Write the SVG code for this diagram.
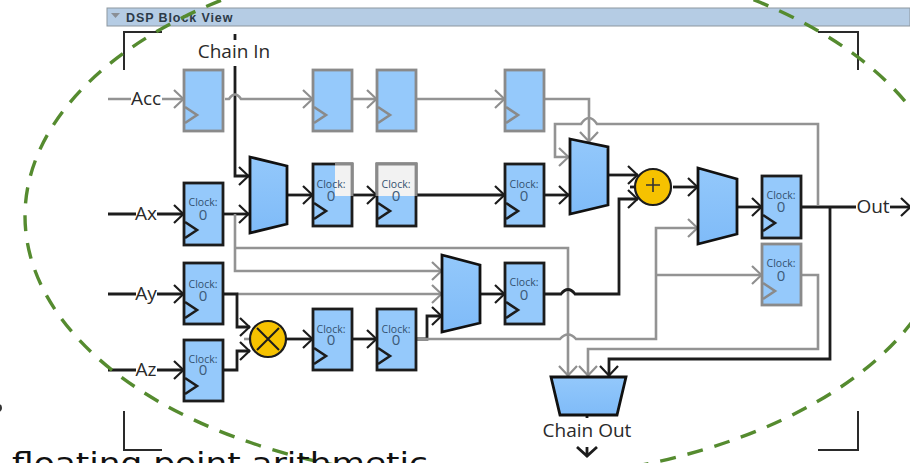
<svg xmlns="http://www.w3.org/2000/svg" width="910" height="463" viewBox="0 0 910 463">
<defs>
<marker id="ab" viewBox="0 0 14 20" refX="13" refY="10" markerWidth="14" markerHeight="20" markerUnits="userSpaceOnUse" orient="auto"><path d="M3 1L12.500 10L3 19" fill="none" stroke="#1c1c1c" stroke-width="2.2"/></marker>
<marker id="ag" viewBox="0 0 14 20" refX="13" refY="10" markerWidth="14" markerHeight="20" markerUnits="userSpaceOnUse" orient="auto"><path d="M3 1L12.500 10L3 19" fill="none" stroke="#8f8f8f" stroke-width="2.2"/></marker>
<linearGradient id="mux" x1="0" y1="0" x2="0" y2="1"><stop offset="0" stop-color="#93c8fb"/><stop offset="1" stop-color="#7fbbf8"/></linearGradient>
</defs>
<style>
text{font-family:"Open Sans","Liberation Sans",sans-serif}
.sb{fill:none;stroke:#1c1c1c;stroke-width:2.8}
.sg{fill:none;stroke:#939393;stroke-width:2.6}
.rb{fill:#95c9fb;stroke:#1c1c1c;stroke-width:2.8}
.rg{fill:#95c9fb;stroke:#8a8a8a;stroke-width:2.8}
.m{fill:url(#mux);stroke:#111;stroke-width:2.8}
.c{font-size:10.500px;fill:#33516f;text-anchor:middle}
.z{font-size:15px;fill:#3d5b78;text-anchor:middle}
.l{font-size:19px;fill:#2a2a2a;text-anchor:middle}
.ck{fill:none;stroke-width:2.6}
.op{fill:#f6c200;stroke:#1c1c1c;stroke-width:2.200}
.crop{fill:none;stroke:#2a2a2a;stroke-width:2}
</style>
<circle cx="-2" cy="408" r="4" fill="#333"/>
<g id="title-bar">
<rect x="107" y="8" width="803" height="18" fill="#b5cce4" stroke="#8d979f" stroke-width="1"/>
<path d="M111 13h9l-4.500 5z" fill="#8a8f96"/>
<text x="126" y="22" font-size="12.500" font-weight="700" fill="#2c3a48" style="font-family:'Liberation Sans',sans-serif" letter-spacing="0.9">DSP Block View</text>
</g>
<g id="crop-marks">
<path class="crop" d="M124 70V32H162"/>
<path class="crop" d="M818 32H858V70"/>
<path class="crop" d="M124 411V450H162"/>
<path class="crop" d="M818 450H858V411"/>
</g>
<g id="connectors">
<path class="sb" d="M235 34V40M235 66V176H249" marker-end="url(#ab)"/>
<path class="sg" d="M108 99H184" marker-end="url(#ag)"/>
<path class="sg" d="M225 99H229Q235 90 241 99H313" marker-end="url(#ag)"/>
<path class="sg" d="M352 99H377" marker-end="url(#ag)"/>
<path class="sg" d="M416 99H505" marker-end="url(#ag)"/>
<path class="sg" d="M544 99H589V142" marker-end="url(#ag)"/>
<path class="sg" d="M818 205V124H597Q589 112 581 124H555V157H569" marker-end="url(#ag)"/>
<path class="sb" d="M108 214H184" marker-end="url(#ab)"/>
<path class="sb" d="M224 214H249" marker-end="url(#ab)"/>
<path class="sb" d="M287 195H313" marker-end="url(#ab)"/>
<path class="sb" d="M352 195H377" marker-end="url(#ab)"/>
<path class="sb" d="M416 195H505" marker-end="url(#ab)"/>
<path class="sb" d="M544 195H569" marker-end="url(#ab)"/>
<path class="sb" d="M608 175H638" marker-end="url(#ab)"/>
<path class="sb" d="M630 187H640"/>
<path class="sb" d="M673 187H698" marker-end="url(#ab)"/>
<path class="sb" d="M737 207H762" marker-end="url(#ab)"/>
<path class="sb" d="M801 207H890"/>
<path class="sb" d="M890 207H911" marker-end="url(#ab)"/>
<path class="sg" d="M235 214V271H442" marker-end="url(#ag)"/>
<path class="sg" d="M235 248H568V376" marker-end="url(#ag)"/>
<path class="sb" d="M108 294H184" marker-end="url(#ab)"/>
<path class="sg" d="M237 294H442" marker-end="url(#ag)"/>
<path class="sb" d="M224 294H237V327H250" marker-end="url(#ab)"/>
<path class="sb" d="M108 370H184" marker-end="url(#ab)"/>
<path class="sb" d="M224 370H237V351H250" marker-end="url(#ab)"/>
<path class="sg" d="M244 339H252"/>
<path class="sb" d="M287 339H313" marker-end="url(#ab)"/>
<path class="sb" d="M352 339H377" marker-end="url(#ab)"/>
<path class="sb" d="M416 339H427V316H442" marker-end="url(#ab)"/>
<path class="sg" d="M416 339H560Q568 330 576 339H656V228H698" marker-end="url(#ag)"/>
<path class="sg" d="M656 275H762" marker-end="url(#ag)"/>
<path class="sb" d="M480 294H505" marker-end="url(#ab)"/>
<path class="sb" d="M544 294H561Q568 285 575 294H619V199H638" marker-end="url(#ab)"/>
<path class="sg" d="M801 275H818V349H588V376" marker-end="url(#ag)"/>
<path class="sb" d="M830 207V359H609V376" marker-end="url(#ab)"/>
<path class="sb" d="M587 415V418M587 447V457M577 447L587 456L597 447"/>
</g>
<g id="reg-acc1"><rect class="rg" x="184" y="70" width="39" height="61"/><path class="ck" stroke="#8a8a8a" d="M185 107L197 115L185 123"/></g>
<g id="reg-acc2"><rect class="rg" x="313" y="70" width="39" height="61"/><path class="ck" stroke="#8a8a8a" d="M314 107L326 115L314 123"/></g>
<g id="reg-acc3"><rect class="rg" x="377" y="70" width="39" height="61"/><path class="ck" stroke="#8a8a8a" d="M378 107L390 115L378 123"/></g>
<g id="reg-acc4"><rect class="rg" x="505" y="70" width="39" height="61"/><path class="ck" stroke="#8a8a8a" d="M506 107L518 115L506 123"/></g>
<g id="reg-ax"><rect class="rb" x="184" y="183" width="39" height="62"/><text class="c" x="203" y="206">Clock:</text><text class="z" x="203" y="220">0</text><path class="ck" stroke="#1c1c1c" d="M185 222L197 230L185 238"/></g>
<g id="reg-ax2"><rect class="rb" x="313" y="164" width="39" height="62"/><rect x="335" y="165" width="16" height="31" fill="#f2f2f2"/><path d="M335 164H352V196" fill="none" stroke="#8a8a8a" stroke-width="2.800"/><text class="c" x="331" y="188">Clock:</text><text class="z" x="331" y="201">0</text><path class="ck" stroke="#1c1c1c" d="M314 203L326 211L314 219"/></g>
<g id="reg-ax3"><rect class="rb" x="377" y="164" width="39" height="62"/><rect x="378" y="165" width="37" height="31" fill="#f2f2f2"/><path d="M377 196V164H416V196" fill="none" stroke="#8a8a8a" stroke-width="2.800"/><text class="c" x="396" y="188">Clock:</text><text class="z" x="396" y="201">0</text><path class="ck" stroke="#1c1c1c" d="M378 203L390 211L378 219"/></g>
<g id="reg-ax4"><rect class="rb" x="505" y="164" width="39" height="62"/><text class="c" x="524" y="188">Clock:</text><text class="z" x="524" y="201">0</text><path class="ck" stroke="#1c1c1c" d="M506 203L518 211L506 219"/></g>
<g id="reg-out"><rect class="rb" x="762" y="176" width="39" height="62"/><text class="c" x="781" y="199">Clock:</text><text class="z" x="781" y="212">0</text><path class="ck" stroke="#1c1c1c" d="M763 215L775 223L763 231"/></g>
<g id="reg-out2"><rect class="rg" x="762" y="244" width="39" height="61"/><text class="c" x="781" y="267">Clock:</text><text class="z" x="781" y="281">0</text><path class="ck" stroke="#8a8a8a" d="M763 283L775 291L763 299"/></g>
<g id="reg-ay"><rect class="rb" x="184" y="263" width="39" height="61"/><text class="c" x="203" y="288">Clock:</text><text class="z" x="203" y="301">0</text><path class="ck" stroke="#1c1c1c" d="M185 302L197 310L185 318"/></g>
<g id="reg-az"><rect class="rb" x="184" y="340" width="39" height="61"/><text class="c" x="203" y="363">Clock:</text><text class="z" x="203" y="375">0</text><path class="ck" stroke="#1c1c1c" d="M185 378L197 386L185 394"/></g>
<g id="reg-m1"><rect class="rb" x="313" y="309" width="39" height="61"/><text class="c" x="331" y="333">Clock:</text><text class="z" x="331" y="345">0</text><path class="ck" stroke="#1c1c1c" d="M314 348L326 356L314 364"/></g>
<g id="reg-m2"><rect class="rb" x="377" y="309" width="39" height="61"/><text class="c" x="396" y="333">Clock:</text><text class="z" x="396" y="345">0</text><path class="ck" stroke="#1c1c1c" d="M378 348L390 356L378 364"/></g>
<g id="reg-mux3"><rect class="rb" x="505" y="263" width="39" height="61"/><text class="c" x="524" y="286">Clock:</text><text class="z" x="524" y="300">0</text><path class="ck" stroke="#1c1c1c" d="M506 302L518 310L506 318"/></g>
<g id="mux-1"><path class="m" d="M250 157L287 166V224L250 233z"/></g>
<g id="mux-2"><path class="m" d="M570 139L608 147V205L570 214z"/></g>
<g id="mux-3"><path class="m" d="M698 168L737 179V234L698 244z"/></g>
<g id="mux-4"><path class="m" d="M442 255L480 265V323L442 332z"/></g>
<g id="mux-out"><path class="m" d="M551 377H626L617 415H560z"/></g>
<g id="adder"><circle class="op" cx="653" cy="187" r="18"/><path d="M646 185H660M653 178V192" stroke="#333" stroke-width="1.600" fill="none"/></g>
<g id="multiplier"><circle class="op" cx="268" cy="339" r="18"/><path d="M257 328L279 350M279 328L257 350" stroke="#1c1c1c" stroke-width="2" fill="none"/></g>
<g id="labels">
<rect x="198" y="42" width="72" height="24" fill="#fff"/><text class="l" x="234" y="58">Chain In</text>
<rect x="131" y="90" width="31" height="18" fill="#fff"/><text class="l" x="146" y="105">Acc</text>
<rect x="136" y="205" width="21" height="18" fill="#fff"/><text class="l" x="146" y="220">Ax</text>
<rect x="136" y="285" width="21" height="18" fill="#fff"/><text class="l" x="146" y="300">Ay</text>
<rect x="136" y="361" width="21" height="18" fill="#fff"/><text class="l" x="146" y="376">Az</text>
<rect x="856" y="198" width="34" height="18" fill="#fff"/><text class="l" x="873" y="213">Out</text>
<text class="l" x="587" y="437">Chain Out</text>
</g>
<g id="ellipse"><ellipse cx="488" cy="216" rx="463" ry="264" fill="none" stroke="#558b2f" stroke-width="3.400" stroke-dasharray="16 12"/></g>
<text x="12" y="473" font-size="28" fill="#111" style="font-family:'DejaVu Sans',sans-serif" textLength="416" lengthAdjust="spacingAndGlyphs">floating point arithmetic</text>
</svg>
